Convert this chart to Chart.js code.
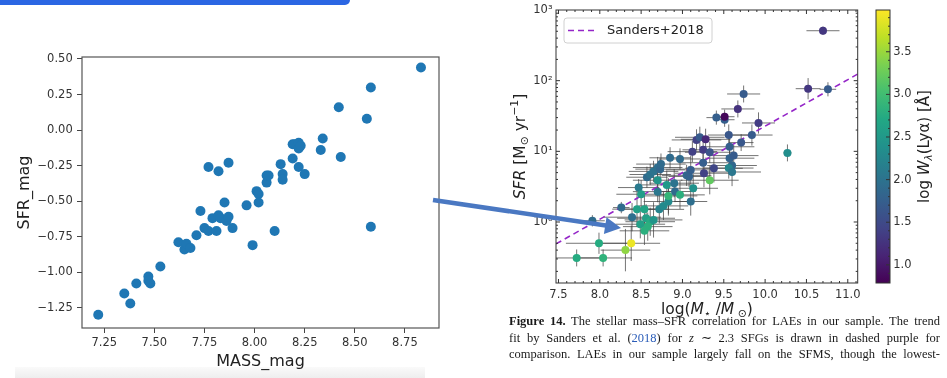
<!DOCTYPE html>
<html>
<head>
<meta charset="utf-8">
<script src="https://cdn.jsdelivr.net/npm/chart.js@4.4.1/dist/chart.umd.min.js"></script>
<style>
  html, body { margin: 0; padding: 0; background: #fff; }
  body { width: 947px; height: 378px; position: relative; overflow: hidden; font-family: "DejaVu Sans", sans-serif; }
  #topbar { position: absolute; left: 0; top: 0; width: 350px; height: 5px; background: #2b66e3; border-radius: 0 0 5px 0; }
  #bottomstrip { position: absolute; left: 15px; top: 367px; width: 410px; height: 11px; background: linear-gradient(#fafafa, #eeeeee); }
  #massChart { position: absolute; left: 0; top: 0; }
  #sfrChart { position: absolute; left: 470px; top: 0; }
  #arrow { position: absolute; left: 0; top: 0; pointer-events: none; }
  #caption { position: absolute; left: 509px; top: 313px; width: 431px; font: 12.5px/16.5px "Liberation Serif", "Times New Roman", serif; color: #1a1a1a; }
  #caption div { text-align: justify; text-align-last: justify; white-space: nowrap; }
  #caption .link { color: #2a5cb8; }
</style>
</head>
<body>
<div id="topbar"></div>
<div id="bottomstrip"></div>
<canvas id="massChart" width="460" height="378"></canvas>
<canvas id="sfrChart" width="477" height="378"></canvas>
<svg id="arrow" width="947" height="378">
  <line x1="433" y1="200" x2="606" y2="225.6" stroke="#4a78c2" stroke-width="4.5"/>
  <polygon points="606.5,217.2 621,228 603.9,234" fill="#4a78c2"/>
</svg>
<div id="caption">
  <div><b>Figure 14.</b> The stellar mass–SFR correlation for LAEs in our sample. The trend</div>
  <div>fit by Sanders et al. (<span class="link">2018</span>) for <i>z</i> ∼ 2.3 SFGs is drawn in dashed purple for</div>
  <div>comparison. LAEs in our sample largely fall on the SFMS, though the lowest-</div>
</div>
<script>
// left panel (notebook scatter)
const massMag = [7.22, 7.35, 7.38, 7.41, 7.47, 7.47, 7.48, 7.53, 7.62, 7.65, 7.66, 7.68, 7.71, 7.73, 7.75, 7.77, 7.77, 7.79, 7.81, 7.82, 7.82, 7.83, 7.85, 7.86, 7.87, 7.87, 7.89, 7.96, 7.99, 8.01, 8.02, 8.02, 8.06, 8.06, 8.07, 8.10, 8.13, 8.14, 8.14, 8.19, 8.19, 8.20, 8.22, 8.22, 8.23, 8.22, 8.25, 8.33, 8.34, 8.42, 8.43, 8.56, 8.58, 8.58, 8.83];
const sfrMag = [-1.30, -1.15, -1.22, -1.08, -1.03, -1.06, -1.08, -0.96, -0.79, -0.84, -0.80, -0.83, -0.74, -0.57, -0.69, -0.71, -0.26, -0.62, -0.71, -0.60, -0.29, -0.62, -0.51, -0.64, -0.23, -0.61, -0.69, -0.53, -0.81, -0.43, -0.45, -0.51, -0.37, -0.32, -0.32, -0.71, -0.24, -0.31, -0.35, -0.20, -0.10, -0.10, -0.09, -0.13, -0.11, -0.26, -0.31, -0.14, -0.06, 0.16, -0.19, 0.08, 0.30, -0.68, 0.44];
const massMagTicks = [7.25, 7.5, 7.75, 8.0, 8.25, 8.5, 8.75];
const sfrMagTicks = [-1.25, -1.0, -0.75, -0.5, -0.25, 0.0, 0.25, 0.5];

// right panel (Figure 14)
const logMass = [7.72, 7.99, 8.04, 7.91, 8.31, 8.38, 8.26, 8.39, 8.47, 8.50, 8.45, 8.54, 8.49, 8.56, 8.61, 8.58, 8.54, 8.65, 8.57, 8.61, 8.65, 8.70, 8.73, 8.74, 8.70, 8.70, 8.81, 8.72, 8.77, 8.83, 8.83, 8.85, 8.90, 8.91, 8.97, 8.97, 9.05, 9.08, 9.10, 9.10, 9.13, 9.12, 9.17, 9.21, 9.28, 9.25, 9.25, 9.26, 9.33, 9.33, 9.38, 9.41, 9.51, 9.51, 9.56, 9.57, 9.57, 9.62, 9.60, 9.56, 9.60, 9.67, 9.74, 9.71, 9.84, 9.92, 10.27, 10.52, 10.76, 10.70];
const sfr = [0.31, 0.50, 0.31, 1.04, 0.40, 0.50, 1.60, 1.17, 3.07, 2.47, 1.52, 1.52, 0.93, 1.13, 1.01, 0.86, 0.75, 1.07, 4.3, 4.7, 5.2, 5.9, 5.6, 6.6, 3.9, 2.69, 3.35, 1.51, 1.69, 1.95, 2.34, 8.1, 3.54, 2.7, 2.42, 7.8, 4.57, 4.4, 1.95, 5.46, 3.0, 9.9, 14.5, 15.8, 14.8, 10.5, 6.9, 4.9, 9.7, 3.9, 5.75, 30, 28, 30.9, 17, 11.6, 8.0, 8.7, 6.3, 5.8, 5.1, 39.8, 64.8, 13.3, 17, 25.2, 9.5, 77, 75.5, 509];
const logEW = [2.75, 2.75, 2.85, 1.90, 3.45, 3.90, 1.90, 1.95, 2.10, 2.55, 2.60, 2.65, 2.60, 2.60, 2.75, 2.80, 2.80, 2.45, 1.90, 2.00, 2.00, 1.95, 1.85, 1.90, 2.45, 2.05, 2.50, 2.20, 2.30, 2.30, 2.90, 1.90, 2.00, 1.90, 2.80, 1.90, 1.85, 1.80, 1.95, 1.75, 2.40, 1.40, 1.40, 1.70, 1.15, 1.35, 1.75, 1.40, 1.60, 3.20, 1.45, 1.75, 1.75, 0.85, 1.65, 1.75, 1.80, 1.70, 1.85, 2.25, 2.05, 1.25, 1.70, 1.65, 1.70, 1.35, 2.35, 1.30, 1.70, 1.30];
// symmetric errors, in dex
const massErr = [0.30, 0.40, 0.35, 0.15, 0.30, 0.35, 0.10, 0.35, 0.25, 0.30, 0.30, 0.30, 0.30, 0.35, 0.30, 0.30, 0.30, 0.35, 0.25, 0.25, 0.30, 0.30, 0.30, 0.30, 0.30, 0.30, 0.30, 0.30, 0.30, 0.30, 0.35, 0.25, 0.30, 0.25, 0.30, 0.25, 0.30, 0.25, 0.20, 0.30, 0.30, 0.30, 0.30, 0.30, 0.30, 0.25, 0.30, 0.35, 0.30, 0.35, 0.35, 0.12, 0.12, 0.12, 0.25, 0.30, 0.30, 0.30, 0.30, 0.30, 0.35, 0.20, 0.20, 0.15, 0.25, 0.20, 0.05, 0.15, 0.10, 0.20];
const sfrErr = [0.12, 0.15, 0.12, 0.08, 0.30, 0.25, 0.08, 0.20, 0.12, 0.20, 0.25, 0.20, 0.20, 0.20, 0.20, 0.20, 0.20, 0.25, 0.15, 0.15, 0.15, 0.15, 0.15, 0.15, 0.20, 0.15, 0.20, 0.20, 0.20, 0.20, 0.25, 0.15, 0.20, 0.15, 0.20, 0.15, 0.15, 0.15, 0.20, 0.20, 0.20, 0.15, 0.15, 0.15, 0.15, 0.15, 0.20, 0.20, 0.15, 0.20, 0.20, 0.10, 0.10, 0.10, 0.15, 0.15, 0.15, 0.15, 0.15, 0.15, 0.20, 0.12, 0.12, 0.12, 0.15, 0.15, 0.12, 0.15, 0.10, 0.06];
const sandersMass = [7.47, 11.12];
const sandersSfr = [0.49, 124];
const logMassTicks = [7.5, 8.0, 8.5, 9.0, 9.5, 10.0, 10.5, 11.0];
const sfrDecades = [1, 10, 100, 1000];
const ewTicks = [1.0, 1.5, 2.0, 2.5, 3.0, 3.5];
const ewMin = 0.787, ewMax = 3.99;

const FONT = '"DejaVu Sans"';
const viridisStops = ['#440154', '#482475', '#414487', '#355f8d', '#2a788e', '#21918c', '#22a884', '#44bf70', '#7ad151', '#bddf26', '#fde725'];

function hexRgb(h) {
    return [1, 3, 5].map(i => parseInt(h.substr(i, 2), 16));
}

function viridis(v) {
    let t = (v - ewMin) / (ewMax - ewMin);
    t = Math.max(0, Math.min(1, t));
    const p = t * 10;
    const i = Math.min(9, Math.floor(p));
    const f = p - i;
    const a = hexRgb(viridisStops[i]), b = hexRgb(viridisStops[i + 1]);
    const c = a.map((x, k) => Math.round(x + (b[k] - x) * f));
    return `rgb(${c[0]}, ${c[1]}, ${c[2]})`;
}

// text with italic / sub / sup pieces, centred on (x, y) baseline
function drawRich(ctx, parts, x, y, size, rotate) {
    ctx.save();
    ctx.translate(x, y);
    if (rotate) ctx.rotate(-Math.PI / 2);
    const fontOf = p => {
        const small = p[1].includes('sub') || p[1].includes('sup');
        return (p[1].startsWith('i') ? 'italic ' : '') + (small ? size * 0.7 : size) + 'px ' + FONT;
    };
    let total = 0;
    parts.forEach(p => { ctx.font = fontOf(p); total += ctx.measureText(p[0]).width; });
    let cx = -total / 2;
    ctx.textAlign = 'left';
    ctx.textBaseline = 'alphabetic';
    ctx.fillStyle = '#222';
    parts.forEach(p => {
        ctx.font = fontOf(p);
        const dy = p[1].includes('sub') ? size * 0.22 : p[1].includes('sup') ? -size * 0.4 : 0;
        ctx.fillText(p[0], cx, dy);
        cx += ctx.measureText(p[0]).width;
    });
    ctx.restore();
}

// ---------- left chart ----------
const massFrame = {
    id: 'massFrame',
    afterDraw(chart) {
        const ctx = chart.ctx, a = chart.chartArea;
        ctx.save();
        ctx.strokeStyle = '#555';
        ctx.lineWidth = 1.2;
        ctx.strokeRect(a.left, a.top, a.right - a.left, a.bottom - a.top);
        ctx.restore();
        drawRich(ctx, [['MASS_mag', '']], (a.left + a.right) / 2, 365.5, 16, false);
        drawRich(ctx, [['SFR_mag', '']], 29, (a.top + a.bottom) / 2, 16, true);
    }
};

new Chart(document.getElementById('massChart'), {
    type: 'scatter',
    data: {
        datasets: [{
            label: 'SFR_mag',
            data: massMag.map((m, i) => ({ x: m, y: sfrMag[i] })),
            backgroundColor: '#1f77b4',
            borderWidth: 0,
            pointRadius: 5,
            pointHoverRadius: 5
        }]
    },
    options: {
        responsive: false,
        animation: false,
        layout: { padding: { top: 57, right: 21, left: 0, bottom: 0 } },
        plugins: { legend: { display: false }, tooltip: { enabled: false } },
        scales: {
            x: {
                type: 'linear', min: 7.139, max: 8.92,
                afterFit: s => { s.height = 50; },
                afterBuildTicks: s => { s.ticks = massMagTicks.map(v => ({ value: v })); },
                grid: { drawOnChartArea: false, drawTicks: true, tickLength: 5, tickColor: '#444' },
                border: { display: false },
                ticks: { padding: 3.5, color: '#333', font: { family: FONT, size: 11.5 }, maxRotation: 0, autoSkip: false,
                    callback: v => v.toFixed(2) }
            },
            y: {
                type: 'linear', min: -1.393, max: 0.514,
                afterFit: s => { s.width = 82; },
                afterBuildTicks: s => { s.ticks = sfrMagTicks.map(v => ({ value: v })); },
                grid: { drawOnChartArea: false, drawTicks: true, tickLength: 5, tickColor: '#444' },
                border: { display: false },
                ticks: { padding: 4.3, color: '#333', font: { family: FONT, size: 11.5 }, autoSkip: false,
                    callback: v => v.toFixed(2).replace('-', '−') }
            }
        }
    },
    plugins: [massFrame]
});

// ---------- right chart ----------
const sfrPanel = {
    id: 'sfrPanel',
    beforeDatasetsDraw(chart) {
        const ctx = chart.ctx, a = chart.chartArea;
        const xs = chart.scales.x, ys = chart.scales.y;
        ctx.save();
        ctx.beginPath();
        ctx.rect(a.left, a.top, a.right - a.left, a.bottom - a.top);
        ctx.clip();
        ctx.strokeStyle = 'rgba(70, 70, 70, 0.75)';
        ctx.lineWidth = 1;
        logMass.forEach((m, i) => {
            const px = xs.getPixelForValue(m), py = ys.getPixelForValue(sfr[i]);
            ctx.beginPath();
            ctx.moveTo(xs.getPixelForValue(m - massErr[i]), py);
            ctx.lineTo(xs.getPixelForValue(m + massErr[i]), py);
            ctx.moveTo(px, ys.getPixelForValue(sfr[i] * Math.pow(10, sfrErr[i])));
            ctx.lineTo(px, ys.getPixelForValue(sfr[i] / Math.pow(10, sfrErr[i])));
            ctx.stroke();
        });
        ctx.restore();
    },
    afterDraw(chart) {
        const ctx = chart.ctx, a = chart.chartArea;
        const xs = chart.scales.x, ys = chart.scales.y, cs = chart.scales.c;
        ctx.save();
        // frame
        ctx.strokeStyle = '#333';
        ctx.lineWidth = 1;
        ctx.strokeRect(a.left, a.top, a.right - a.left, a.bottom - a.top);
        // inward ticks on all four sides
        const tick = (x1, y1, x2, y2) => { ctx.beginPath(); ctx.moveTo(x1, y1); ctx.lineTo(x2, y2); ctx.stroke(); };
        for (let k = 75; k <= 111; k++) {
            const v = k / 10;
            const px = xs.getPixelForValue(v);
            const len = (k % 5 === 0) ? 4 : 2;
            tick(px, a.bottom, px, a.bottom - len);
            tick(px, a.top, px, a.top + len);
        }
        for (let d = -1; d <= 2; d++) {
            for (let m = 1; m <= 9; m++) {
                const v = m * Math.pow(10, d);
                if (v < ys.min || v > ys.max) continue;
                const py = ys.getPixelForValue(v);
                const len = m === 1 ? 4 : 2;
                tick(a.left, py, a.left + len, py);
                tick(a.right, py, a.right - len, py);
            }
        }
        // legend
        const line = chart.data.datasets[1];
        ctx.fillStyle = 'rgba(255,255,255,0.85)';
        ctx.strokeStyle = '#d0d0d0';
        ctx.beginPath();
        ctx.roundRect(a.left + 8, a.top + 8, 148, 25, 3);
        ctx.fill();
        ctx.stroke();
        ctx.strokeStyle = line.borderColor;
        ctx.lineWidth = line.borderWidth;
        ctx.setLineDash(line.borderDash);
        tick(a.left + 12, a.top + 20.5, a.left + 40, a.top + 20.5);
        ctx.setLineDash([]);
        ctx.fillStyle = '#222';
        ctx.font = '13px ' + FONT;
        ctx.textBaseline = 'middle';
        ctx.fillText(line.label, a.left + 51, a.top + 21);
        // colorbar
        const bx = 406, bw = 14;
        const top = cs.getPixelForValue(ewMax), bot = cs.getPixelForValue(ewMin);
        const g = ctx.createLinearGradient(0, bot, 0, top);
        viridisStops.forEach((c, i) => g.addColorStop(i / 10, c));
        ctx.fillStyle = g;
        ctx.fillRect(bx, top, bw, bot - top);
        ctx.strokeStyle = '#333';
        ctx.lineWidth = 1;
        ctx.strokeRect(bx, top, bw, bot - top);
        for (let k = 8; k <= 39; k++) {
            const py = cs.getPixelForValue(k / 10);
            const len = (k % 5 === 0) ? 4 : 2;
            tick(bx + bw, py, bx + bw - len, py);
        }
        ctx.restore();
        // axis titles
        drawRich(ctx, [['log(', ''], ['M', 'i'], ['⋆', 'sub'], [' /', ''], ['M', 'i'], [' ⊙', 'sub'], [')', '']],
            (a.left + a.right) / 2, 313.5, 15.5, false);
        drawRich(ctx, [['SFR', 'i'], [' [M', ''], ['⊙', 'sub'], [' yr', ''], ['−1', 'sup'], [']', '']],
            54.5, (a.top + a.bottom) / 2, 15.5, true);
        drawRich(ctx, [['log ', ''], ['W', 'i'], ['λ', 'isub'], ['(Lyα) [Å]', '']],
            459, (top + bot) / 2, 15, true);
    }
};

const supDigits = { '-1': '⁻¹', '0': '⁰', '1': '¹', '2': '²', '3': '³' };

new Chart(document.getElementById('sfrChart'), {
    type: 'scatter',
    data: {
        datasets: [{
            label: 'LAEs',
            data: logMass.map((m, i) => ({ x: m, y: sfr[i] })),
            backgroundColor: logEW.map(viridis),
            borderWidth: 0,
            pointRadius: 4,
            pointHoverRadius: 4
        }, {
            type: 'line',
            label: 'Sanders+2018',
            data: sandersMass.map((m, i) => ({ x: m, y: sandersSfr[i] })),
            borderColor: '#9526c8',
            borderDash: [6, 4],
            borderWidth: 1.6,
            pointRadius: 0,
            fill: false
        }]
    },
    options: {
        responsive: false,
        animation: false,
        layout: { padding: { top: 10, right: 0, left: 0, bottom: 0 } },
        plugins: { legend: { display: false }, tooltip: { enabled: false } },
        scales: {
            x: {
                type: 'linear', min: 7.47, max: 11.12,
                afterFit: s => { s.height = 95; },
                afterBuildTicks: s => { s.ticks = logMassTicks.map(v => ({ value: v })); },
                grid: { display: false, drawTicks: false },
                border: { display: false },
                ticks: { padding: 5, color: '#333', font: { family: FONT, size: 11.5 }, maxRotation: 0, autoSkip: false,
                    callback: v => v.toFixed(1) }
            },
            y: {
                type: 'logarithmic', min: 0.137, max: 1000,
                afterFit: s => { s.width = 86; },
                afterBuildTicks: s => { s.ticks = sfrDecades.map(v => ({ value: v })); },
                grid: { display: true, drawOnChartArea: false, drawTicks: true, tickLength: 3, tickColor: 'rgba(0,0,0,0)' },
                border: { display: false },
                ticks: { padding: 0.5, color: '#333', font: { family: FONT, size: 11.5 }, autoSkip: false,
                    callback: v => '10' + supDigits[String(Math.round(Math.log10(v)))] }
            },
            c: {
                type: 'linear', position: 'right', min: ewMin, max: ewMax,
                afterFit: s => { s.width = 89.3; },
                afterBuildTicks: s => { s.ticks = ewTicks.map(v => ({ value: v })); },
                // transparent tick marks push the labels past the colour bar
                grid: { display: true, drawOnChartArea: false, drawTicks: true, tickLength: 34, tickColor: 'rgba(0,0,0,0)' },
                border: { display: false },
                ticks: { padding: 1.6, color: '#333', font: { family: FONT, size: 11.5 }, autoSkip: false,
                    callback: v => v.toFixed(1) }
            }
        }
    },
    plugins: [sfrPanel]
});
</script>
</body>
</html>
